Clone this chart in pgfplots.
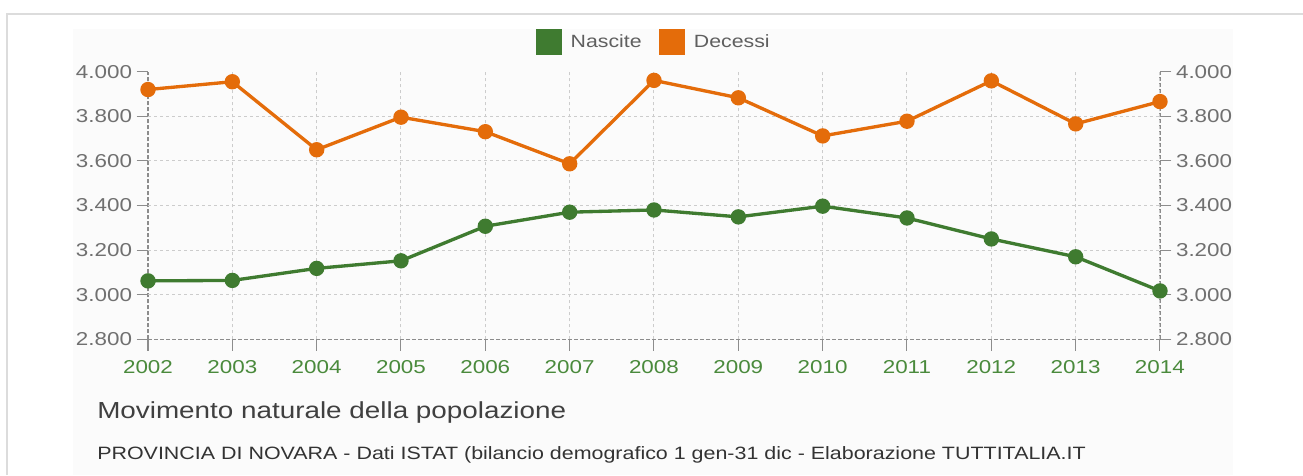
\documentclass[border=0pt]{standalone}
\usepackage{fontspec}
\setmainfont{Liberation Sans}[FakeStretch=1.2]
\usepackage{pgfplots}
\pgfplotsset{compat=1.18}
\definecolor{nasc}{HTML}{3F7B30}
\definecolor{dec}{HTML}{E46C0A}
\definecolor{xlab}{HTML}{4A8A3C}
\definecolor{ylab}{HTML}{707070}
\definecolor{gridc}{HTML}{CCCCCC}
\definecolor{axc}{HTML}{8C8C8C}
\definecolor{framec}{HTML}{DCDCDC}
\definecolor{bgc}{HTML}{FBFBFB}
\pgfplotstableread{
year nascite decessi
2002 3062 3920
2003 3064 3955
2004 3118 3650
2005 3152 3796
2006 3307 3731
2007 3370 3587
2008 3380 3961
2009 3349 3883
2010 3397 3712
2011 3344 3778
2012 3250 3959
2013 3170 3766
2014 3017 3866
}\datatable
\begin{document}
\begin{tikzpicture}
\useasboundingbox (0,0) rectangle (977.25pt,356.25pt);
\fill[white] (0,0) rectangle (977.25pt,356.25pt);
\fill[bgc] (54.75pt,0) rectangle (924.75pt,334.5pt);
\draw[framec, line width=1.5pt] (5.25pt,0) -- (5.25pt,345.75pt) -- (977.25pt,345.75pt);
\begin{axis}[
  at={(111pt,101.775pt)}, anchor=south west,
  scale only axis, width=759pt, height=200.7pt,
  xmin=2002, xmax=2014, ymin=2800, ymax=4000,
  axis x line=none, axis y line*=right,
  axis line style={-, axc, line width=1pt, dash pattern=on 3pt off 1.5pt},
  tick align=outside,
  major tick length=8.5pt,
  tick style={axc, line width=0.8pt, solid},
  ytick={2800,3000,...,4000},
  yticklabels={2.800,3.000,3.200,3.400,3.600,3.800,4.000},
  yticklabel style={font=\fontsize{14}{16}\selectfont, text=ylab},
]
\end{axis}
\begin{axis}[
  at={(111pt,101.775pt)}, anchor=south west,
  scale only axis, width=759pt, height=200.7pt,
  xmin=2002, xmax=2014, ymin=2800, ymax=4000,
  clip=false,
  axis x line*=bottom, axis y line*=left,
  axis line style={-, axc, line width=1pt, dash pattern=on 3pt off 1.5pt},
  tick align=outside,
  major tick length=8.5pt,
  tick style={axc, line width=0.8pt, solid},
  xtick={2002,...,2014},
  xticklabels={2002,2003,2004,2005,2006,2007,2008,2009,2010,2011,2012,2013,2014},
  xticklabel style={font=\fontsize{14}{16}\selectfont, text=xlab, yshift=-4pt},
  ytick={2800,3000,...,4000},
  yticklabels={2.800,3.000,3.200,3.400,3.600,3.800,4.000},
  yticklabel style={font=\fontsize{14}{16}\selectfont, text=ylab},
  xmajorgrids=true,
  extra y ticks={3000,3200,3400,3600,3800},
  extra y tick labels={},
  extra y tick style={ymajorgrids=true, major tick length=0pt},
  grid style={gridc, line width=0.75pt, dash pattern=on 2.25pt off 2.25pt},
  legend columns=2,
  legend style={at={(0.5,1)}, anchor=center, yshift=22.3pt, draw=none, fill=none,
    inner sep=0pt, font=\fontsize{13.3}{15}\selectfont, text=ylab!85!black,
    /tikz/every even column/.append style={column sep=11pt}},
  legend cell align=left,
  legend image code/.code={\fill[#1] (0pt,-8.6pt) rectangle (17.25pt,8.6pt); \path[draw=none,fill=none] (23pt,0pt);},
]
\addplot[nasc, line width=2.5pt, mark=*, mark size=4.5pt, mark options={solid}] table[x=year, y=nascite] {\datatable};
\addlegendentry{Nascite}
\addplot[dec, line width=2.5pt, mark=*, mark size=4.5pt, mark options={solid}] table[x=year, y=decessi] {\datatable};
\addlegendentry{Decessi}
\end{axis}
\node[anchor=base west, inner sep=0pt, text=black!75, font=\fontsize{17.4}{20}\selectfont] at (72.75pt,42pt) {Movimento naturale della popolazione};
\node[anchor=base west, inner sep=0pt, text=black!80, font=\fontsize{13.4}{16}\selectfont] at (72.75pt,12pt) {PROVINCIA DI NOVARA - Dati ISTAT (bilancio demografico 1 gen-31 dic - Elaborazione TUTTITALIA.IT};
\end{tikzpicture}
\end{document}
